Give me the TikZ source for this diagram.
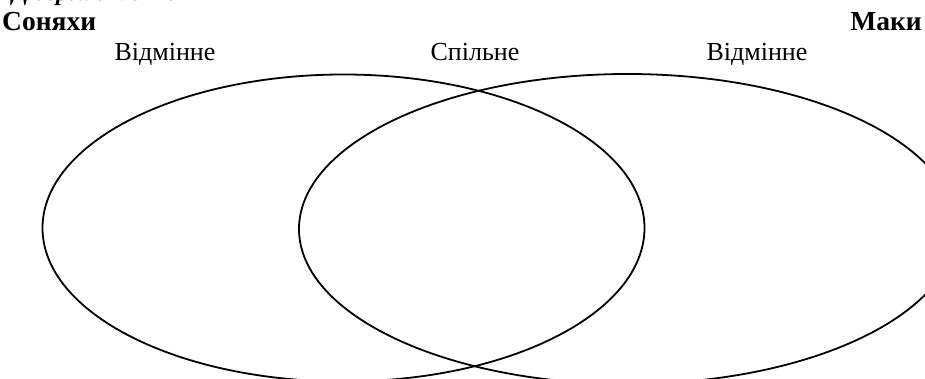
\documentclass[tikz,border=0pt]{standalone}
\usepackage{fontspec}
\setmainfont{Liberation Serif}
\begin{document}
\begin{tikzpicture}[x=1pt,y=-1pt,
  lbl/.style={inner sep=0pt,font=\fontsize{26}{30}\selectfont},
  ttl/.style={inner sep=0pt,font=\fontsize{27.5}{32}\selectfont\bfseries},
  venn/.style={draw=black,line width=1.8pt}]
\useasboundingbox (0,0) rectangle (925,379);
\node[inner sep=0pt,font=\fontsize{24}{28}\selectfont\bfseries\itshape,anchor=base west] (head) at (12,1) {Діаграма Венна};
\node[ttl,anchor=base west] (son) at (2,31) {Соняхи};
\node[ttl,anchor=base east] (mak) at (922,31) {Маки};
\node[lbl,anchor=base] (d1) at (165,61) {Відмінне};
\node[lbl,anchor=base] (sp) at (475,61) {Спільне};
\node[lbl,anchor=base] (d2) at (757,61) {Відмінне};
\draw[venn] (343.5,228) ellipse [x radius=301, y radius=153.5];
\draw[venn] (627.5,229) ellipse [x radius=328.5, y radius=155];
\end{tikzpicture}
\end{document}
